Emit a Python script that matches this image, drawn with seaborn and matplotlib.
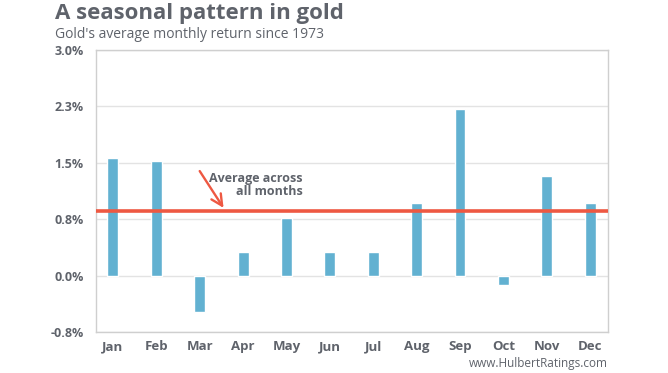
import matplotlib
matplotlib.use("Agg")
import matplotlib.pyplot as plt
import seaborn as sns
import pandas as pd

# data
months = ["Jan", "Feb", "Mar", "Apr", "May", "Jun", "Jul", "Aug", "Sep", "Oct", "Nov", "Dec"]
returns = [1.57, 1.52, -0.48, 0.32, 0.76, 0.32, 0.32, 0.97, 2.21, -0.13, 1.32, 0.97]
average = 0.86
yticks = [-0.75, 0.0, 0.75, 1.5, 2.25, 3.0]
ytick_labels = ["-0.8%", "0.0%", "0.8%", "1.5%", "2.3%", "3.0%"]

df = pd.DataFrame({"month": months, "ret": returns})

sns.set_style("white")
plt.rcParams["font.family"] = ["Open Sans", "DejaVu Sans"]

bar_color = "#62b1d1"
red = "#ee5842"
text_gray = "#5f636b"
grid_gray = "#e3e3e3"

fig = plt.figure(figsize=(6.68, 3.73), dpi=100)
ax = fig.add_axes([96 / 668, 1 - 332 / 373, (608 - 96) / 668, (332 - 50) / 373])

sns.barplot(data=df, x="month", y="ret", color=bar_color, width=0.25,
            saturation=1, ax=ax, zorder=3)

ax.axhline(average, color=red, lw=2.6, zorder=4)

ax.set_ylim(-0.75, 3.0)
ax.set_xlim(-0.39, 11.41)
ax.set_yticks(yticks)
ax.set_yticklabels(ytick_labels)
ax.yaxis.grid(True, color=grid_gray, lw=1, zorder=0)
ax.set_axisbelow(True)
ax.set_xlabel("")
ax.set_ylabel("")

for s in ax.spines.values():
    s.set_color("#cfcfcf")
    s.set_linewidth(1)

ax.tick_params(axis="y", length=0, pad=9, labelsize=9, labelcolor=text_gray)
ax.tick_params(axis="x", length=0, pad=6, labelsize=9.5, labelcolor=text_gray)
for lbl in ax.get_yticklabels() + ax.get_xticklabels():
    lbl.set_fontweight("bold")

# annotation
ax.annotate("", xy=(2.55, average + 0.04), xytext=(2.0, 1.39),
            arrowprops=dict(arrowstyle="->", color=red, lw=1.7,
                            mutation_scale=20, shrinkA=0, shrinkB=0))
ax.text(4.37, 1.38, "Average across\nall months", ha="right", va="top",
        fontsize=9, fontweight="bold", color=text_gray, linespacing=1.0)

fig.text(55 / 668, 1 - 13 / 373, "A seasonal pattern in gold", fontsize=16,
         fontweight="bold", color=text_gray, va="center", ha="left")
fig.text(55 / 668, 1 - 34 / 373, "Gold's average monthly return since 1973",
         fontsize=10, color=text_gray, va="center", ha="left")
fig.text(608 / 668, 1 - 363 / 373, "www.HulbertRatings.com", fontsize=8.5,
         color=text_gray, va="center", ha="right")

fig.savefig("out.png", dpi=100)
